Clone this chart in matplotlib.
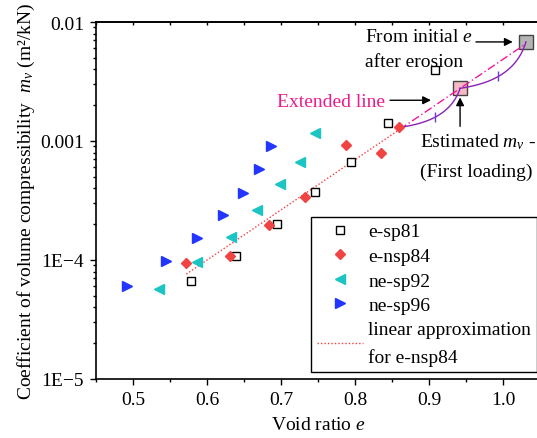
import matplotlib.pyplot as plt
import numpy as np
from matplotlib.ticker import MultipleLocator, FixedLocator, FixedFormatter, LogLocator, NullFormatter

plt.rcParams['font.family'] = ['Liberation Serif', 'DejaVu Serif']
plt.rcParams['mathtext.fontset'] = 'custom'
plt.rcParams['mathtext.rm'] = 'Liberation Serif'
plt.rcParams['mathtext.it'] = 'Liberation Serif:italic'
plt.rcParams['font.size'] = 14

# data
e_sp81 = [0.578, 0.639, 0.695, 0.746, 0.795, 0.845, 0.908]
mv_sp81 = [6.6e-5, 1.09e-4, 2.0e-4, 3.73e-4, 6.7e-4, 1.41e-3, 3.93e-3]

e_nsp84 = [0.572, 0.631, 0.684, 0.733, 0.788, 0.835, 0.860]
mv_nsp84 = [9.4e-5, 1.09e-4, 1.95e-4, 3.37e-4, 9.2e-4, 7.9e-4, 1.30e-3]

e_sp92 = [0.535, 0.587, 0.632, 0.668, 0.699, 0.726, 0.746]
mv_sp92 = [5.75e-5, 9.6e-5, 1.56e-4, 2.63e-4, 4.39e-4, 6.7e-4, 1.16e-3]

e_sp96 = [0.492, 0.544, 0.587, 0.621, 0.648, 0.670, 0.687]
mv_sp96 = [6.1e-5, 9.75e-5, 1.53e-4, 2.39e-4, 3.64e-4, 5.78e-4, 9.0e-4]

# estimated (first loading) and initial-after-erosion points
e_est, mv_est = 0.942, 2.77e-3
e_init, mv_init = 1.031, 6.8e-3

ytick_vals = [1e-5, 1e-4, 1e-3, 1e-2]
ytick_labels = ['1E\u22125', '1E\u22124', '0.001', '0.01']

fig = plt.figure(figsize=(5.37, 4.39), dpi=100)
ax = fig.add_axes([96 / 537, 1 - 380 / 439, 444 / 537, 357 / 439])
ax.set_yscale('log')

# linear fit of log(mv) vs e for e-nsp84
k, b = np.polyfit(e_nsp84, np.log10(mv_nsp84), 1)
e_fit = np.linspace(min(e_nsp84), max(e_nsp84), 50)
e_ext = np.linspace(max(e_nsp84), e_init, 50)

ax.plot(e_sp81, mv_sp81, 's', ms=5.3, mfc='white', mec='black', mew=1, ls='none', label='e-sp81', zorder=4)
ax.plot(e_nsp84, mv_nsp84, 'D', ms=5.2, color='#ee4444', ls='none', label='e-nsp84', zorder=4)
ax.plot(e_sp92, mv_sp92, '<', ms=6.8, color='#1cc4c4', ls='none', label='ne-sp92', zorder=4)
ax.plot(e_sp96, mv_sp96, '>', ms=6.8, color='#2236ff', ls='none', label='ne-sp96', zorder=4)
ax.plot(e_fit, 10 ** (k * e_fit + b), ls=(0, (1, 1.5)), color='#ff3b3b', lw=1,
        label='linear approximation\nfor e-nsp84', zorder=3)
ax.plot(e_ext, 10 ** (k * e_ext + b), ls=(0, (6, 2, 1, 2)), color='#f0189a', lw=1, zorder=3)

ax.plot([e_est], [mv_est], 's', ms=9.6, mfc='#f9b9c4', mec='#444444', mew=1, zorder=2)
ax.plot([e_init], [mv_init], 's', ms=9.6, mfc='#b4b4b4', mec='#444444', mew=1, zorder=2)


# purple s-shaped path through the three points
def s_curve(p0, p1, n=60):
    p0 = np.array(p0)
    p1 = np.array(p1)
    d = p1 - p0
    c1 = p0 + np.array([0.35, 0.08]) * d
    c2 = p1 - np.array([0.16, 0.75]) * d
    t = np.linspace(0, 1, n)[:, None]
    return (1 - t) ** 3 * p0 + 3 * (1 - t) ** 2 * t * c1 + 3 * (1 - t) * t ** 2 * c2 + t ** 3 * p1


nodes = [(e_nsp84[-1], np.log10(mv_nsp84[-1])), (e_est, np.log10(mv_est)), (e_init, np.log10(mv_init))]
for p0, p1 in zip(nodes[:-1], nodes[1:]):
    c = s_curve(p0, p1)
    ax.plot(c[:, 0], 10 ** c[:, 1], color='#8a22b8', lw=1, zorder=3)
    mid = c[len(c) // 2]
    ax.plot([mid[0]], [10 ** mid[1]], marker='|', ms=7, mew=1, color='#6a3ce0', zorder=3)

# annotations
ax.text(0.8135, 7.6e-3, 'From initial $e$', ha='left', va='center')
ax.text(0.8135, 4.68e-3, 'after erosion', ha='left', va='center')
ax.annotate('', xy=(e_init, mv_init), xytext=(-50, 0), textcoords='offset pixels',
            arrowprops=dict(arrowstyle='-|>', color='black', lw=1, shrinkA=0, shrinkB=9.5, mutation_scale=12))

ax.text(0.8405, 2.13e-3, 'Extended line', ha='right', va='center', color='#ec1c8c')
ax.annotate('', xy=(0.9027, 2.2e-3), xytext=(0.8473, 2.2e-3),
            arrowprops=dict(arrowstyle='-|>', color='black', lw=1, shrinkA=0, shrinkB=0, mutation_scale=12))

ax.text(0.8878, 9.94e-4, 'Estimated $m_v$ -', ha='left', va='center')
ax.text(0.8878, 5.56e-4, '(First loading)', ha='left', va='center')
ax.annotate('', xy=(e_est, mv_est), xytext=(0, -38), textcoords='offset pixels',
            arrowprops=dict(arrowstyle='-|>', color='black', lw=1, shrinkA=0, shrinkB=6.5, mutation_scale=12))

ax.set_xlim(0.45, 1.05)
ax.set_ylim(1e-5, 1e-2)

ax.xaxis.set_major_locator(MultipleLocator(0.1))
ax.xaxis.set_minor_locator(MultipleLocator(0.05))
ax.xaxis.set_major_formatter(plt.FormatStrFormatter('%.1f'))
ax.yaxis.set_major_locator(FixedLocator(ytick_vals))
ax.yaxis.set_major_formatter(FixedFormatter(ytick_labels))
ax.yaxis.set_minor_locator(LogLocator(base=10, subs=np.arange(2, 10)))
ax.yaxis.set_minor_formatter(NullFormatter())

ax.tick_params(axis='both', which='major', direction='out', length=4, width=1, pad=4.5, labelsize=14)
ax.tick_params(axis='both', which='minor', direction='out', length=2.2, width=1)
ax.tick_params(right=False, top=False)

top = ax.secondary_xaxis('top')
top.xaxis.set_major_locator(MultipleLocator(0.05))
top.tick_params(direction='in', length=2.5, width=1, labeltop=False)

for s in ax.spines.values():
    s.set_linewidth(1.2)
top.spines['top'].set_linewidth(1.2)

ax.set_xlabel('Void ratio $e$')
ax.set_ylabel('Coefficient of volume compressibility  $m_v$ (m\u00b2/kN)')
ax.xaxis.set_label_coords(0.5, -0.104)
ax.yaxis.set_label_coords(-0.133, 0.5)

leg = ax.legend(loc='lower right', bbox_to_anchor=(0.9932, 0.0204), borderaxespad=0,
                fancybox=False, framealpha=1, edgecolor='black', borderpad=0.3,
                handlelength=2.4, handletextpad=0.25, labelspacing=0.36, fontsize=14)
leg.get_frame().set_linewidth(1)
for t in leg.get_texts():
    t.set_linespacing(1.7)

fig.savefig('out.png', dpi=100)
